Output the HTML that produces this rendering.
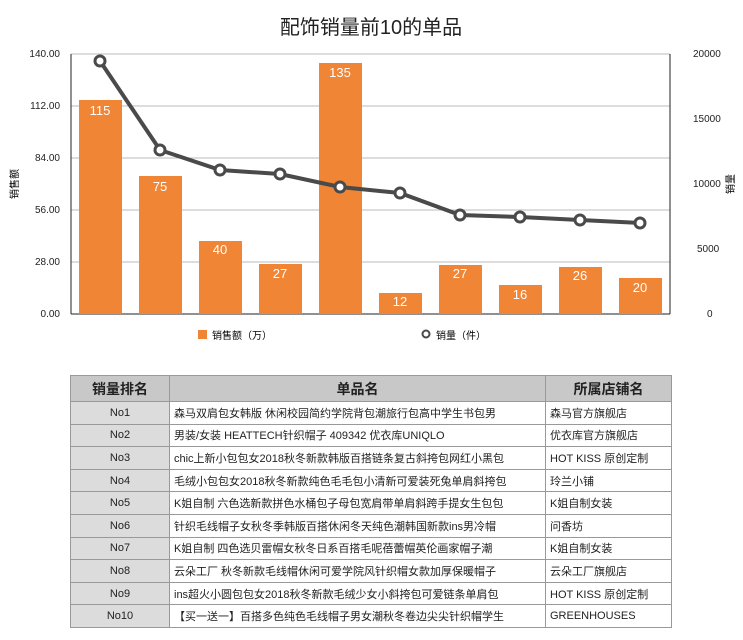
<!DOCTYPE html>
<html><head><meta charset="utf-8"><style>
body{margin:0;background:#fff;width:743px;height:640px;position:relative;font-family:"Liberation Sans","Noto Sans CJK SC",sans-serif;overflow:hidden}
table{position:absolute;left:70px;top:375px;width:602px;border-collapse:collapse;font-size:11px;color:#222}
td,th{border:1px solid #999;height:22.6px;padding:0 4px;box-sizing:border-box}
th{background:#c8c8c8;font-size:14px;height:26px;font-weight:bold}
td.r{background:#dcdcdc;text-align:center;width:99px}
td.s{width:126px}
table{border:1.5px solid #444}
</style></head><body>
<svg width="743" height="370" style="position:absolute;left:0;top:0" font-family="Liberation Sans, Noto Sans CJK SC, sans-serif">
<text x="371" y="34" text-anchor="middle" font-size="20" fill="#222">配饰销量前10的单品</text>
<g stroke="#bbb" stroke-width="1">
<line x1="71" x2="670" y1="54" y2="54"/><line x1="71" x2="670" y1="106" y2="106"/><line x1="71" x2="670" y1="158" y2="158"/><line x1="71" x2="670" y1="210" y2="210"/><line x1="71" x2="670" y1="262" y2="262"/></g>
<line x1="71" x2="71" y1="54" y2="314" stroke="#222"/><line x1="670" x2="670" y1="54" y2="314" stroke="#222"/>
<line x1="71" x2="670" y1="314" y2="314" stroke="#222"/>
<g font-size="10" fill="#222" text-anchor="end">
<text x="60" y="57">140.00</text><text x="60" y="109">112.00</text><text x="60" y="161">84.00</text><text x="60" y="213">56.00</text><text x="60" y="265">28.00</text><text x="60" y="317">0.00</text></g>
<g font-size="10" fill="#222" text-anchor="start">
<text x="693" y="57">20000</text><text x="693" y="122">15000</text><text x="693" y="187">10000</text><text x="697" y="252">5000</text><text x="707" y="317">0</text></g>
<text transform="translate(18,184) rotate(-90)" font-size="10" text-anchor="middle">销售额</text>
<text transform="translate(734,184) rotate(-90)" font-size="10" text-anchor="middle">销量</text>
<g fill="#ef8535">
<rect x="79" y="100" width="43" height="214"/><rect x="139" y="176" width="43" height="138"/><rect x="199" y="241" width="43" height="73"/><rect x="259" y="264" width="43" height="50"/><rect x="319" y="63" width="43" height="251"/><rect x="379" y="293" width="43" height="21"/><rect x="439" y="265" width="43" height="49"/><rect x="499" y="285" width="43" height="29"/><rect x="559" y="267" width="43" height="47"/><rect x="619" y="278" width="43" height="36"/></g>
<g font-size="13" fill="#fff" text-anchor="middle">
<text x="100" y="115">115</text><text x="160" y="191">75</text><text x="220" y="254">40</text><text x="280" y="278">27</text><text x="340" y="77">135</text><text x="400" y="306">12</text><text x="460" y="278">27</text><text x="520" y="299">16</text><text x="580" y="280">26</text><text x="640" y="292">20</text></g>
<polyline fill="none" stroke="#4a4a4a" stroke-width="4" points="100,61 160,150 220,170 280,174 340,187 400,193 460,215 520,217 580,220 640,223"/>
<g fill="#fff" stroke="#4a4a4a" stroke-width="3">
<circle cx="100" cy="61" r="5"/><circle cx="160" cy="150" r="5"/><circle cx="220" cy="170" r="5"/><circle cx="280" cy="174" r="5"/><circle cx="340" cy="187" r="5"/><circle cx="400" cy="193" r="5"/><circle cx="460" cy="215" r="5"/><circle cx="520" cy="217" r="5"/><circle cx="580" cy="220" r="5"/><circle cx="640" cy="223" r="5"/></g>
<rect x="198" y="330" width="9" height="9" fill="#ef8535"/><text x="212" y="339" font-size="10">销售额（万）</text>
<circle cx="426" cy="334" r="3.5" fill="#fff" stroke="#4a4a4a" stroke-width="2"/><text x="436" y="339" font-size="10">销量（件）</text>
</svg>
<table>
<tr><th>销量排名</th><th>单品名</th><th>所属店铺名</th></tr>
<tr><td class="r">No1</td><td>森马双肩包女韩版 休闲校园简约学院背包潮旅行包高中学生书包男</td><td class="s">森马官方旗舰店</td></tr>
<tr><td class="r">No2</td><td>男装/女装 HEATTECH针织帽子 409342 优衣库UNIQLO</td><td class="s">优衣库官方旗舰店</td></tr>
<tr><td class="r">No3</td><td>chic上新小包包女2018秋冬新款韩版百搭链条复古斜挎包网红小黑包</td><td class="s">HOT KISS 原创定制</td></tr>
<tr><td class="r">No4</td><td>毛绒小包包女2018秋冬新款纯色毛毛包小清新可爱装死兔单肩斜挎包</td><td class="s">玲兰小铺</td></tr>
<tr><td class="r">No5</td><td>K姐自制 六色选新款拼色水桶包子母包宽肩带单肩斜跨手提女生包包</td><td class="s">K姐自制女装</td></tr>
<tr><td class="r">No6</td><td>针织毛线帽子女秋冬季韩版百搭休闲冬天纯色潮韩国新款ins男冷帽</td><td class="s">问香坊</td></tr>
<tr><td class="r">No7</td><td>K姐自制 四色选贝雷帽女秋冬日系百搭毛呢蓓蕾帽英伦画家帽子潮</td><td class="s">K姐自制女装</td></tr>
<tr><td class="r">No8</td><td>云朵工厂 秋冬新款毛线帽休闲可爱学院风针织帽女款加厚保暖帽子</td><td class="s">云朵工厂旗舰店</td></tr>
<tr><td class="r">No9</td><td>ins超火小圆包包女2018秋冬新款毛绒少女小斜挎包可爱链条单肩包</td><td class="s">HOT KISS 原创定制</td></tr>
<tr><td class="r">No10</td><td>【买一送一】百搭多色纯色毛线帽子男女潮秋冬卷边尖尖针织帽学生</td><td class="s">GREENHOUSES</td></tr>
</table>
</body></html>
